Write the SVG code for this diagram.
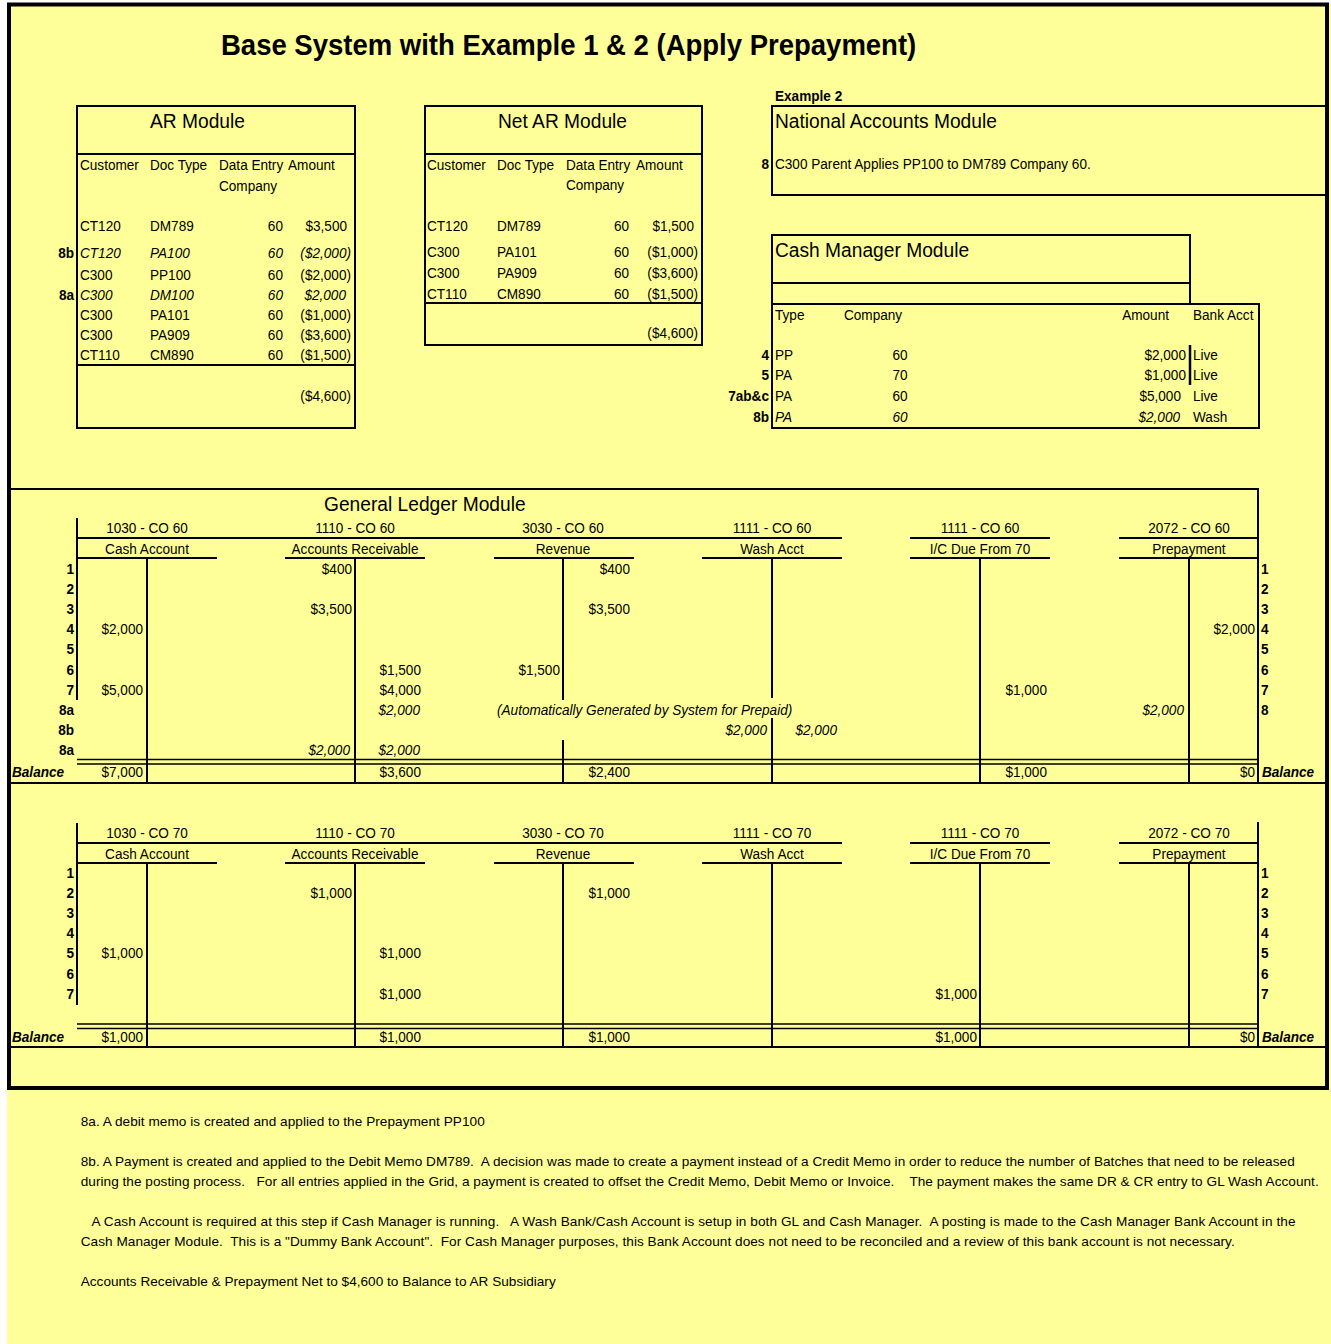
<svg xmlns="http://www.w3.org/2000/svg" width="1331" height="1344" viewBox="0 0 1331 1344">
<style>
text{font-family:"Liberation Sans",Arial,sans-serif;font-size:15.4px;fill:#000;transform-box:fill-box;transform-origin:0 0;transform:scaleX(.883)}
.b{font-weight:bold}
.i{font-style:italic}
.r{text-anchor:end;transform-origin:100% 0}
.m{text-anchor:middle;transform-origin:50% 0}
.h{font-size:21px;transform:scaleX(.914)}
.ttl{font-size:30px;font-weight:bold;transform:scaleX(.917)}
.n{font-size:13.6px;transform:none;white-space:pre}
.ln{stroke:#000;stroke-width:2;fill:none}
.dl{stroke:#000;stroke-width:1.5;fill:none}
</style>
<rect x="0" y="0" width="1331" height="1344" fill="#ffffff"/>
<rect x="7" y="3" width="1324" height="1341" fill="#FFFF99"/>
<rect x="9" y="4.5" width="1318" height="1083.5" fill="none" stroke="#000" stroke-width="4"/>

<g id="title"><text class="ttl" x="221" y="55">Base System with Example 1 &amp; 2 (Apply Prepayment)</text></g>

<g id="ar-module">
<rect class="ln" x="77" y="106" width="278" height="322"/>
<path class="ln" d="M77 154H355M77 365H355"/>
<text class="h" x="150" y="128">AR Module</text>
<text x="80" y="170">Customer</text><text x="150" y="170">Doc Type</text><text x="219" y="170">Data Entry</text><text x="288" y="170">Amount</text>
<text x="219" y="191">Company</text>
<text x="80" y="231">CT120</text><text x="150" y="231">DM789</text><text class="r" x="283" y="231">60</text><text class="r" x="347" y="231">$3,500</text>
<text class="b r" x="74" y="258">8b</text><text class="i" x="80" y="258">CT120</text><text class="i" x="150" y="258">PA100</text><text class="i r" x="283" y="258">60</text><text class="i r" x="351" y="258">($2,000)</text>
<text x="80" y="280">C300</text><text x="150" y="280">PP100</text><text class="r" x="283" y="280">60</text><text class="r" x="351" y="280">($2,000)</text>
<text class="b r" x="74" y="300">8a</text><text class="i" x="80" y="300">C300</text><text class="i" x="150" y="300">DM100</text><text class="i r" x="283" y="300">60</text><text class="i r" x="346" y="300">$2,000</text>
<text x="80" y="320">C300</text><text x="150" y="320">PA101</text><text class="r" x="283" y="320">60</text><text class="r" x="351" y="320">($1,000)</text>
<text x="80" y="340">C300</text><text x="150" y="340">PA909</text><text class="r" x="283" y="340">60</text><text class="r" x="351" y="340">($3,600)</text>
<text x="80" y="360">CT110</text><text x="150" y="360">CM890</text><text class="r" x="283" y="360">60</text><text class="r" x="351" y="360">($1,500)</text>
<text class="r" x="351" y="401">($4,600)</text>
</g>

<g id="net-ar-module">
<rect class="ln" x="425" y="106" width="277" height="239"/>
<path class="ln" d="M425 154H702M425 303H702"/>
<text class="h" x="498" y="128">Net AR Module</text>
<text x="427" y="170">Customer</text><text x="497" y="170">Doc Type</text><text x="566" y="170">Data Entry</text><text x="636" y="170">Amount</text>
<text x="566" y="190">Company</text>
<text x="427" y="231">CT120</text><text x="497" y="231">DM789</text><text class="r" x="629" y="231">60</text><text class="r" x="694" y="231">$1,500</text>
<text x="427" y="257">C300</text><text x="497" y="257">PA101</text><text class="r" x="629" y="257">60</text><text class="r" x="698" y="257">($1,000)</text>
<text x="427" y="278">C300</text><text x="497" y="278">PA909</text><text class="r" x="629" y="278">60</text><text class="r" x="698" y="278">($3,600)</text>
<text x="427" y="299">CT110</text><text x="497" y="299">CM890</text><text class="r" x="629" y="299">60</text><text class="r" x="698" y="299">($1,500)</text>
<text class="r" x="698" y="338">($4,600)</text>
</g>

<g id="national-accounts-module">
<text class="b" x="775" y="101">Example 2</text>
<path class="ln" d="M1327 106H772V195H1327"/>
<text class="h" x="775" y="128">National Accounts Module</text>
<text class="b r" x="769" y="169">8</text><text x="775" y="169">C300 Parent Applies PP100 to DM789 Company 60.</text>
</g>

<g id="cash-manager-module">
<rect class="ln" x="772" y="235" width="418" height="69"/>
<path class="ln" d="M772 283H1190"/>
<rect class="ln" x="772" y="304" width="487" height="124"/>
<path d="M1190 345V385" stroke="#000" stroke-width="2.5"/>
<text class="h" x="775" y="257">Cash Manager Module</text>
<text x="775" y="320">Type</text><text x="844" y="320">Company</text><text class="r" x="1169" y="320">Amount</text><text x="1193" y="320">Bank Acct</text>
<text class="b r" x="769" y="360">4</text><text x="775" y="360">PP</text><text class="m" x="900" y="360">60</text><text class="r" x="1186" y="360">$2,000</text><text x="1193" y="360">Live</text>
<text class="b r" x="769" y="380">5</text><text x="775" y="380">PA</text><text class="m" x="900" y="380">70</text><text class="r" x="1186" y="380">$1,000</text><text x="1193" y="380">Live</text>
<text class="b r" x="769" y="401">7ab&amp;c</text><text x="775" y="401">PA</text><text class="m" x="900" y="401">60</text><text class="r" x="1181" y="401">$5,000</text><text x="1193" y="401">Live</text>
<text class="b r" x="769" y="422">8b</text><text class="i" x="775" y="422">PA</text><text class="i m" x="900" y="422">60</text><text class="i r" x="1180" y="422">$2,000</text><text x="1193" y="422">Wash</text>
</g>

<g id="gl-co60">
<path class="ln" d="M8 489H1258V783M8 783H1329"/>
<text class="h" x="324" y="511">General Ledger Module</text>
<path class="ln" d="M77 518V700M77 538H842M910 538H1050M1119 538H1258M77 558H217M285 558H425M494 558H634M702 558H842M910 558H1050M1119 558H1258"/>
<path class="ln" d="M147 558V783M355 558V783M563 558V700M563 740V783M772 558V698M772 718V783M980 558V783M1189 558V783"/>
<path class="dl" d="M77 759.5H1258M77 764H1258"/>
<text class="m" x="147" y="533">1030 - CO 60</text><text class="m" x="147" y="554">Cash Account</text>
<text class="m" x="355" y="533">1110 - CO 60</text><text class="m" x="355" y="554">Accounts Receivable</text>
<text class="m" x="563" y="533">3030 - CO 60</text><text class="m" x="563" y="554">Revenue</text>
<text class="m" x="772" y="533">1111 - CO 60</text><text class="m" x="772" y="554">Wash Acct</text>
<text class="m" x="980" y="533">1111 - CO 60</text><text class="m" x="980" y="554">I/C Due From 70</text>
<text class="m" x="1189" y="533">2072 - CO 60</text><text class="m" x="1189" y="554">Prepayment</text>
<text class="b r" x="74" y="574">1</text><text class="b r" x="74" y="594">2</text><text class="b r" x="74" y="614">3</text><text class="b r" x="74" y="634">4</text><text class="b r" x="74" y="654">5</text><text class="b r" x="74" y="675">6</text><text class="b r" x="74" y="695">7</text><text class="b r" x="74" y="715">8a</text><text class="b r" x="74" y="735">8b</text><text class="b r" x="74" y="755">8a</text>
<text class="b" x="1261" y="574">1</text><text class="b" x="1261" y="594">2</text><text class="b" x="1261" y="614">3</text><text class="b" x="1261" y="634">4</text><text class="b" x="1261" y="654">5</text><text class="b" x="1261" y="675">6</text><text class="b" x="1261" y="695">7</text><text class="b" x="1261" y="715">8</text>
<text class="r" x="352" y="574">$400</text><text class="r" x="630" y="574">$400</text>
<text class="r" x="352" y="614">$3,500</text><text class="r" x="630" y="614">$3,500</text>
<text class="r" x="143" y="634">$2,000</text><text class="r" x="1255" y="634">$2,000</text>
<text class="r" x="421" y="675">$1,500</text><text class="r" x="560" y="675">$1,500</text>
<text class="r" x="143" y="695">$5,000</text><text class="r" x="421" y="695">$4,000</text><text class="r" x="1047" y="695">$1,000</text>
<text class="i r" x="420" y="715">$2,000</text><text class="i" x="497" y="715">(Automatically Generated by System for Prepaid)</text><text class="i r" x="1184" y="715">$2,000</text>
<text class="i r" x="767" y="735">$2,000</text><text class="i r" x="837" y="735">$2,000</text>
<text class="i r" x="350" y="755">$2,000</text><text class="i r" x="420" y="755">$2,000</text>
<text class="b i" x="12" y="777">Balance</text><text class="b i" x="1262" y="777">Balance</text>
<text class="r" x="143" y="777">$7,000</text><text class="r" x="421" y="777">$3,600</text><text class="r" x="630" y="777">$2,400</text><text class="r" x="1047" y="777">$1,000</text><text class="r" x="1255" y="777">$0</text>
</g>

<g id="gl-co70">
<path class="ln" d="M1258 822V1047M8 1047H1329"/>
<path class="ln" d="M77 823V1005M77 843H842M910 843H1050M1119 843H1258M77 863H217M285 863H425M494 863H634M702 863H842M910 863H1050M1119 863H1258"/>
<path class="ln" d="M147 863V1047M355 863V1047M563 863V1047M772 863V1047M980 863V1047M1189 863V1047"/>
<path class="dl" d="M77 1024H1258M77 1028.5H1258"/>
<text class="m" x="147" y="838">1030 - CO 70</text><text class="m" x="147" y="859">Cash Account</text>
<text class="m" x="355" y="838">1110 - CO 70</text><text class="m" x="355" y="859">Accounts Receivable</text>
<text class="m" x="563" y="838">3030 - CO 70</text><text class="m" x="563" y="859">Revenue</text>
<text class="m" x="772" y="838">1111 - CO 70</text><text class="m" x="772" y="859">Wash Acct</text>
<text class="m" x="980" y="838">1111 - CO 70</text><text class="m" x="980" y="859">I/C Due From 70</text>
<text class="m" x="1189" y="838">2072 - CO 70</text><text class="m" x="1189" y="859">Prepayment</text>
<text class="b r" x="74" y="878">1</text><text class="b r" x="74" y="898">2</text><text class="b r" x="74" y="918">3</text><text class="b r" x="74" y="938">4</text><text class="b r" x="74" y="958">5</text><text class="b r" x="74" y="979">6</text><text class="b r" x="74" y="999">7</text>
<text class="b" x="1261" y="878">1</text><text class="b" x="1261" y="898">2</text><text class="b" x="1261" y="918">3</text><text class="b" x="1261" y="938">4</text><text class="b" x="1261" y="958">5</text><text class="b" x="1261" y="979">6</text><text class="b" x="1261" y="999">7</text>
<text class="r" x="352" y="898">$1,000</text><text class="r" x="630" y="898">$1,000</text>
<text class="r" x="143" y="958">$1,000</text><text class="r" x="421" y="958">$1,000</text>
<text class="r" x="421" y="999">$1,000</text><text class="r" x="977" y="999">$1,000</text>
<text class="b i" x="12" y="1042">Balance</text><text class="b i" x="1262" y="1042">Balance</text>
<text class="r" x="143" y="1042">$1,000</text><text class="r" x="421" y="1042">$1,000</text><text class="r" x="630" y="1042">$1,000</text><text class="r" x="977" y="1042">$1,000</text><text class="r" x="1255" y="1042">$0</text>
</g>

<g id="notes">
<text class="n" xml:space="preserve" x="80.7" y="1126" textLength="404">8a. A debit memo is created and applied to the Prepayment PP100</text>
<text class="n" xml:space="preserve" x="80.7" y="1166" textLength="1214">8b. A Payment is created and applied to the Debit Memo DM789.  A decision was made to create a payment instead of a Credit Memo in order to reduce the number of Batches that need to be released</text>
<text class="n" xml:space="preserve" x="80.7" y="1186" textLength="1238">during the posting process.   For all entries applied in the Grid, a payment is created to offset the Credit Memo, Debit Memo or Invoice.    The payment makes the same DR &amp; CR entry to GL Wash Account.</text>
<text class="n" xml:space="preserve" x="91.5" y="1226" textLength="1204">A Cash Account is required at this step if Cash Manager is running.   A Wash Bank/Cash Account is setup in both GL and Cash Manager.  A posting is made to the Cash Manager Bank Account in the</text>
<text class="n" xml:space="preserve" x="80.7" y="1246" textLength="1154">Cash Manager Module.  This is a "Dummy Bank Account".  For Cash Manager purposes, this Bank Account does not need to be reconciled and a review of this bank account is not necessary.</text>
<text class="n" xml:space="preserve" x="80.7" y="1286" textLength="475">Accounts Receivable &amp; Prepayment Net to $4,600 to Balance to AR Subsidiary</text>
</g>
</svg>
